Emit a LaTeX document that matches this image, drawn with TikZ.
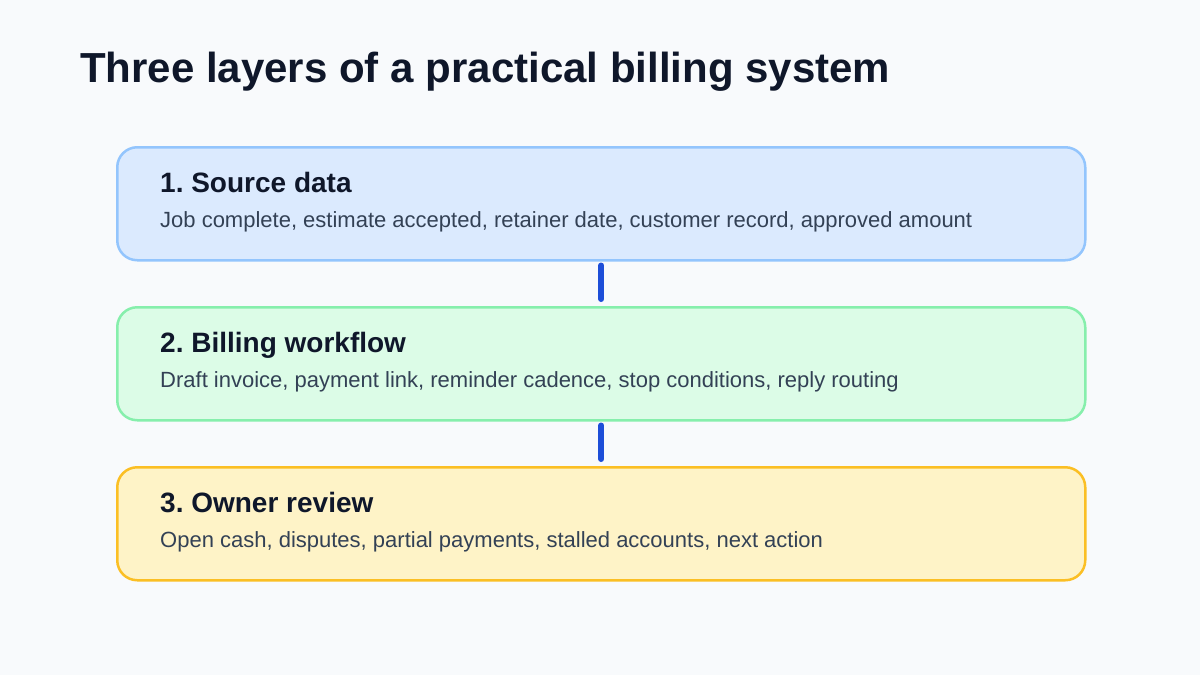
\documentclass[tikz,border=0pt]{standalone}
\usepackage{fontspec}
\setmainfont{Liberation Sans}
\definecolor{bg}{HTML}{F8FAFC}
\definecolor{ink}{HTML}{0F172A}
\definecolor{sub}{HTML}{334155}
\definecolor{fillA}{HTML}{DBEAFE}
\definecolor{lineA}{HTML}{93C5FD}
\definecolor{fillB}{HTML}{DCFCE7}
\definecolor{lineB}{HTML}{86EFAC}
\definecolor{fillC}{HTML}{FEF3C7}
\definecolor{lineC}{HTML}{FBBF24}
\definecolor{link}{HTML}{1D4ED8}
\begin{document}
\frenchspacing
\begin{tikzpicture}[x=1pt,y=-1pt,
  layer/.style={draw, line width=2.5pt, rounded corners=20pt, minimum width=968pt, minimum height=113pt, anchor=north west, inner sep=0pt},
  head/.style={anchor=base west, inner sep=0pt, text=ink, font=\fontsize{28}{32}\selectfont\bfseries},
  desc/.style={anchor=base west, inner sep=0pt, text=sub, font=\fontsize{22}{26}\selectfont},
  conn/.style={draw=link, line width=6pt, line cap=round}]
\fill[bg] (0,0) rectangle (1200,675);
\useasboundingbox (0,0) rectangle (1200,675);
\node[anchor=base west, inner sep=0pt, text=ink, font=\fontsize{42}{48}\selectfont\bfseries] (title) at (80,82) {Three layers of a practical billing system};
\node[layer, fill=fillA, draw=lineA] (b1) at (116,146) {};
\node[layer, fill=fillB, draw=lineB] (b2) at (116,306) {};
\node[layer, fill=fillC, draw=lineC] (b3) at (116,466) {};
\node[head] (h1) at (160,192) {1. Source data};
\node[desc] (d1) at (160,227) {Job complete, estimate accepted, retainer date, customer record, approved amount};
\node[head] (h2) at (160,352) {2. Billing workflow};
\node[desc] (d2) at (160,387) {Draft invoice, payment link, reminder cadence, stop conditions, reply routing};
\node[head] (h3) at (160,512) {3. Owner review};
\node[desc] (d3) at (160,547) {Open cash, disputes, partial payments, stalled accounts, next action};
\coordinate (c1a) at ([yshift=-4pt]b1.south);
\coordinate (c1b) at ([yshift=7pt]b2.north);
\coordinate (c2a) at ([yshift=-4pt]b2.south);
\coordinate (c2b) at ([yshift=7pt]b3.north);
\draw[conn] (c1a) -- (c1b);
\draw[conn] (c2a) -- (c2b);
\end{tikzpicture}
\end{document}
